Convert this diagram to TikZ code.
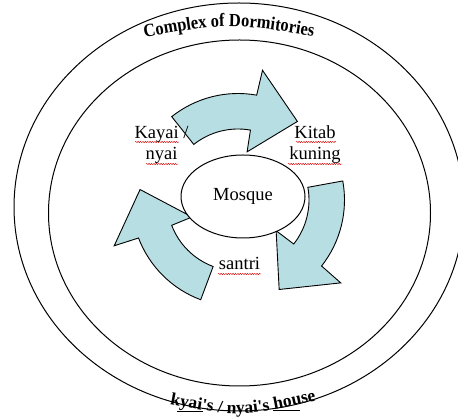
\documentclass[tikz,border=0pt]{standalone}
\usepackage{fontspec}
\setmainfont{Liberation Serif}
\newfontfamily\titlefont{Liberation Serif Bold}[FakeStretch=0.89]
\newfontfamily\housefont{Liberation Serif Bold}
\usetikzlibrary{shapes.geometric,decorations.text,decorations.pathmorphing}
\definecolor{arrowblue}{RGB}{183,222,226}
\newcommand\cyclearrow[1]{%
  \filldraw[cyclebody, shift={(238,217)}]
    (#1:106.5) arc[start angle=#1, end angle=#1-48.6, radius=106.5]
    -- (#1-49.2:132) -- (#1-75.6:98.5) -- (#1-49.2:49)
    -- (#1-48.6:71) arc[start angle=#1-48.6, end angle=#1, radius=71]
    -- cycle;}
\begin{document}
\begin{tikzpicture}[x=1pt,y=1pt,
  ring/.style={draw=black, line width=1pt, ellipse, inner sep=0pt},
  cyclebody/.style={fill=arrowblue, draw=black, line width=0.9pt, line join=miter},
  lbl/.style={font=\fontsize{18.5}{21}\selectfont, align=center, inner sep=0pt},
  squiggle/.style={draw=red!85!black, line width=0.45pt, decorate,
    decoration={snake, amplitude=0.6pt, segment length=2.4pt}},
  uline/.style={draw=black, line width=0.8pt}
]
\useasboundingbox (0,0) rectangle (458,417);
% rings
\node[ring, minimum width=450, minimum height=408] (outerring) at (239,210) {};
\node[ring, minimum width=382, minimum height=346] (innerring) at (239.5,204) {};
% cycle arrows
\cyclearrow{128.5}
\cyclearrow{10.3}
\cyclearrow{249.5}
% mosque
\node[ring, fill=white, minimum width=124, minimum height=83,
      font=\fontsize{18.5}{21}\selectfont] (mosque) at (243,220.5) {Mosque};
% labels
\node[lbl] (kayai) at (161.5,272.6) {Kayai /\\nyai};
\node[lbl] (kitab) at (315,272.6) {Kitab\\kuning};
\node[lbl, anchor=base] (santri) at (239.5,147.5) {santri};
% spell-check squiggles
\draw[squiggle] (135,275) -- (179,275);
\draw[squiggle] (146,253) -- (178,253);
\draw[squiggle] (296,275) -- (336,275);
\draw[squiggle] (288,253) -- (342,253);
\draw[squiggle] (218,143) -- (261,143);
% curved titles
\path[decorate, decoration={text along path, text align=center,
  text={|\titlefont\fontsize{18.5}{20}\selectfont|Complex of Dormitories}}]
  (140,379) .. controls (229,394.5) .. (318,380);
\path[decorate, decoration={text along path, text align=center,
  text={|\housefont\fontsize{17.5}{19}\selectfont|kyai's / nyai's house}}]
  (164,13.5) .. controls (240,-0.5) .. (322,17.5);
\draw[uline] (177,5.5) -- (203,5.5);
\draw[uline] (273,7) -- (300,7);
\end{tikzpicture}
\end{document}
